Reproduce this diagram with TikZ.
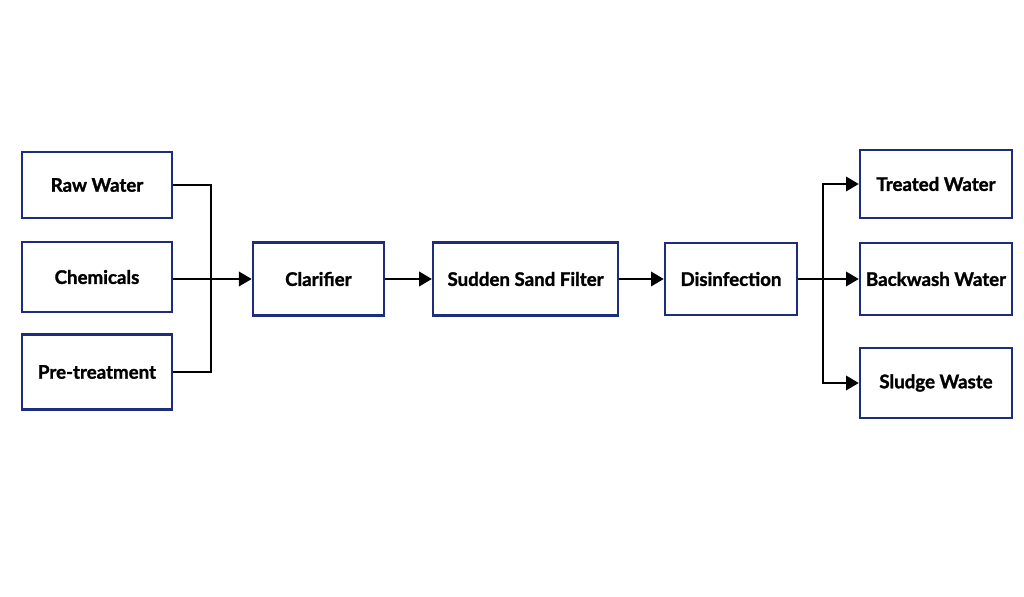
\documentclass[tikz,border=0pt]{standalone}
\usepackage{fontspec}
\setmainfont{Lato}[BoldFeatures={FakeBold=1.5}]
\usepackage{xcolor}
\usepackage{tikz}
\usetikzlibrary{arrows.meta,positioning,calc}
\definecolor{boxblue}{RGB}{28,45,125}

\begin{document}
\begin{tikzpicture}[
  n/.style={rectangle,draw=boxblue,line width=1.7pt,minimum width=3.75cm,minimum height=1.75cm,align=center,inner sep=2pt,font=\fontsize{13.3}{15}\selectfont\bfseries},
  l/.style={line width=1.6pt},
  a/.style={-{Triangle[length=3.2mm,width=3.6mm]},line width=1.6pt}
]
\useasboundingbox (0,0) rectangle (25.6,14.925);
\node[n,minimum height=1.65cm] (raw) at (2.425,10.3) {Raw Water};
\node[n] (chem) at (2.425,8.0) {Chemicals};
\node[n,minimum height=1.875cm] (pre) at (2.425,5.625) {Pre-treatment};
\node[n,minimum width=3.275cm,minimum height=1.825cm] (clar) at (7.96,7.95) {Clarifier};
\node[n,minimum width=4.625cm,minimum height=1.825cm] (sand) at (13.14,7.95) {Sudden Sand Filter};
\node[n,minimum width=3.3cm,minimum height=1.8cm] (dis) at (18.275,7.95) {Disinfection};
\node[n,minimum width=3.8cm,minimum height=1.7cm] (treat) at (23.4,10.325) {Treated Water};
\node[n,minimum width=3.8cm,minimum height=1.8cm] (back) at (23.4,7.95) {Backwash Water};
\node[n,minimum width=3.8cm] (sludge) at (23.4,5.35) {Sludge Waste};
\coordinate (jin) at (5.275,7.95);
\coordinate (jout) at (20.575,7.95);
\draw[l] (raw.east) -| (jin);
\draw[l] (pre.east) -| (jin);
\draw[a] (chem.east |- clar.west) -- (clar.west);
\draw[a] (clar.east) -- (sand.west);
\draw[a] (sand.east) -- (dis.west);
\draw[a] (dis.east) -- (back.west);
\draw[a] (jout) |- (treat.west);
\draw[a] (jout) |- (sludge.west);
\end{tikzpicture}
\end{document}
